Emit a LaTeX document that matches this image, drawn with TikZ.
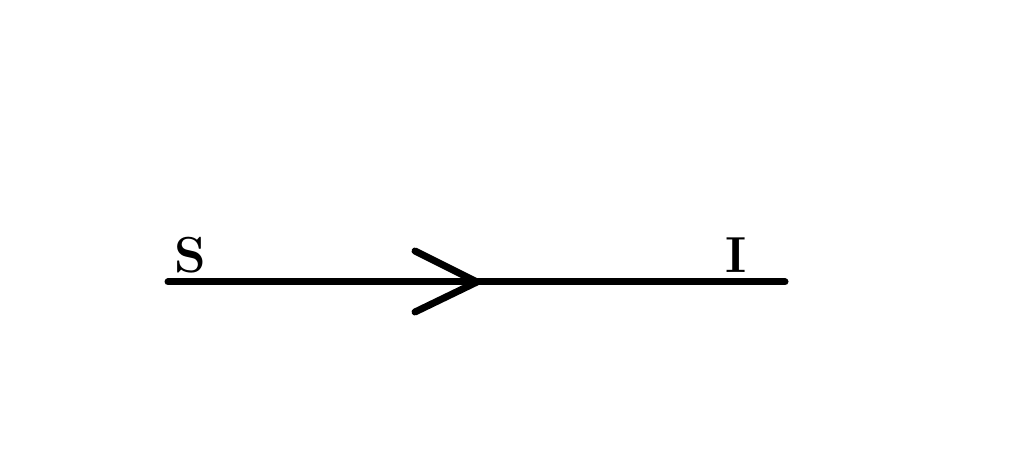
\documentclass[tikz,border=0pt]{standalone}
\begin{document}
\begin{tikzpicture}[x=0.25mm,y=-0.25mm,
  wire/.style={line width=1.75mm,line cap=round,line join=round,black},
  lab/.style={font=\fontsize{36}{40}\selectfont\bfseries,inner sep=0pt,anchor=base}]
\useasboundingbox (0,0) rectangle (1024,455);
\coordinate (a) at (168,282);
\coordinate (b) at (785,282);
\coordinate (tip) at (477,282);
\coordinate (c1) at (415,251);
\coordinate (c2) at (415,312);
\draw[wire] (a) -- (b);
\draw[wire] (c1) -- (tip) -- (c2);
\node[lab] (S) at (190,273) {S};
\node[lab] (I) at (736,273) {I};
\end{tikzpicture}
\end{document}
